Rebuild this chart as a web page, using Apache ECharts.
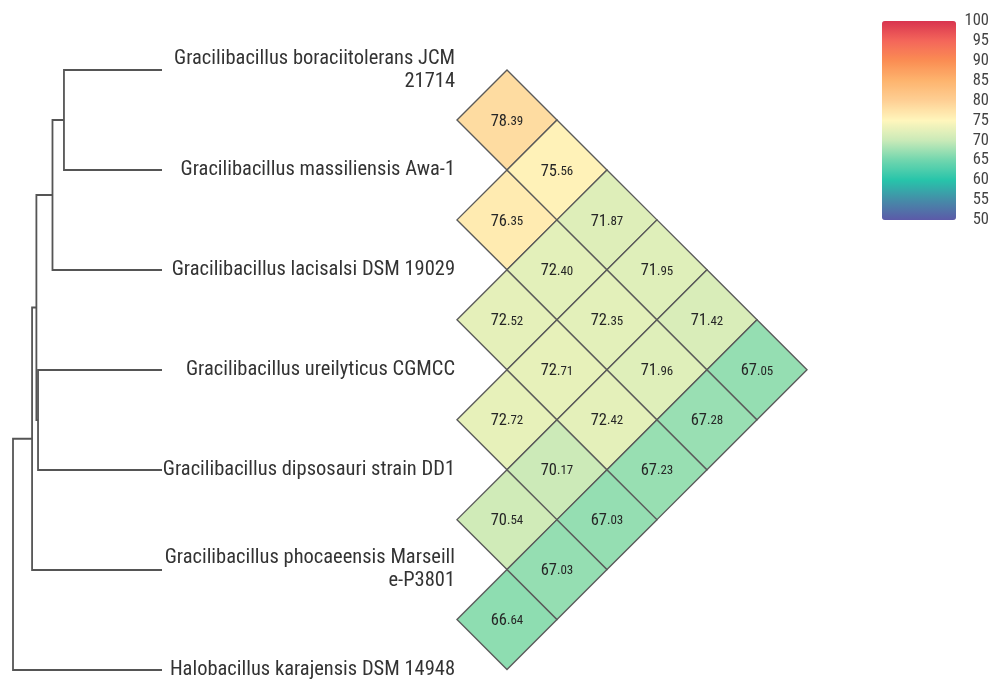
<!DOCTYPE html>
<html>
<head>
<meta charset="utf-8">
<script src="https://cdn.jsdelivr.net/npm/echarts@6/dist/echarts.min.js"></script>
<style>html,body{margin:0;padding:0;background:#fff}#main{width:994px;height:681px}</style>
</head>
<body>
<div id="main"></div>
<script>
// Leaf labels (top to bottom)
const species = [
  'Gracilibacillus boraciitolerans JCM\n21714',
  'Gracilibacillus massiliensis Awa-1',
  'Gracilibacillus lacisalsi DSM 19029',
  'Gracilibacillus ureilyticus CGMCC',
  'Gracilibacillus dipsosauri strain DD1',
  'Gracilibacillus phocaeensis Marseill\ne-P3801',
  'Halobacillus karajensis DSM 14948'
];
// Tree merges: [child A, child B, merge height]; new nodes numbered from 7
const merges = [
  [0, 1, 0.658],
  [7, 2, 0.735],
  [3, 4, 0.832],
  [8, 9, 0.843],
  [10, 5, 0.872],
  [11, 6, 1.0]
];
// Pairwise ANI values [i, j, value]
const aniPairs = [
  [0,1,78.39],[1,2,76.35],[2,3,72.52],[3,4,72.72],[4,5,70.54],[5,6,66.64],
  [0,2,75.56],[1,3,72.40],[2,4,72.71],[3,5,70.17],[4,6,67.03],
  [0,3,71.87],[1,4,72.35],[2,5,72.42],[3,6,67.03],
  [0,4,71.95],[1,5,71.96],[2,6,67.23],
  [0,5,71.42],[1,6,67.28],
  [0,6,67.05]
];
const scaleTicks = [50, 100, 5];
const scaleColors = ['#5c5aa8','#458ca8','#27c4aa','#70d6ae','#caeab8','#fff6bc','#fecf94','#fdb46e','#fb8d53','#f4665a','#d8344f'];

const FONT = '"Roboto Condensed", Roboto, sans-serif';

// build dendrogram segments
const nodeH = species.map(() => 0);
const nodeY = species.map((_, i) => i);
const treeData = merges.map(([a, b, h]) => {
  const item = [nodeH[a], nodeY[a], nodeH[b], nodeY[b], h];
  nodeH.push(h);
  nodeY.push((nodeY[a] + nodeY[b]) / 2);
  return item;
});
const heatData = aniPairs.map(([i, j, v]) => [j - i, (i + j) / 2, v]);

const chart = echarts.init(document.getElementById('main'));
chart.setOption({
  backgroundColor: '#fff',
  animation: false,
  grid: [
    {left: 457, top: 70, width: 350, height: 600},
    {left: 13, top: 70, width: 149, height: 600},
    {left: 882, top: 21, width: 74, height: 199}
  ],
  xAxis: [
    {gridIndex: 0, type: 'value', min: 0, max: 7, show: false},
    {gridIndex: 1, type: 'value', min: 0, max: 1, inverse: true, show: false},
    {gridIndex: 2, type: 'value', min: 0, max: 1, show: false}
  ],
  yAxis: [
    {gridIndex: 0, type: 'value', min: 0, max: 6, interval: 1, inverse: true,
     axisLine: {show: false}, axisTick: {show: false}, splitLine: {show: false},
     axisLabel: {margin: 2, fontFamily: FONT, fontSize: 20.5, lineHeight: 23, color: '#333',
       formatter: v => species[v] || ''}},
    {gridIndex: 1, type: 'value', min: 0, max: 6, inverse: true, show: false},
    {gridIndex: 2, type: 'value', min: scaleTicks[0], max: scaleTicks[1], interval: scaleTicks[2], position: 'right',
     axisLine: {show: false}, axisTick: {show: false}, splitLine: {show: false},
     axisLabel: {margin: 33, align: 'right', fontFamily: FONT, fontSize: 16.5, color: '#444'}}
  ],
  visualMap: {
    type: 'continuous', min: scaleTicks[0], max: scaleTicks[1], seriesIndex: 0, dimension: 2,
    left: 882, top: 21, itemWidth: 74, itemHeight: 199, padding: 0,
    calculable: false, text: null, hoverLink: false,
    inRange: {color: scaleColors}
  },
  series: [
    {
      type: 'custom', xAxisIndex: 0, yAxisIndex: 0, data: heatData,
      renderItem: (params, api) => {
        const d = api.value(0), r = api.value(1), v = api.value(2);
        const pts = [[d - 1, r], [d, r - 0.5], [d + 1, r], [d, r + 0.5]].map(p => api.coord(p));
        const c = api.coord([d, r]);
        const s = v.toFixed(2).split('.');
        return {type: 'group', children: [
          {type: 'polygon', shape: {points: pts}, style: {fill: api.visual('color'), stroke: '#5a5a5a', lineWidth: 1.4}},
          {type: 'text', x: c[0], y: c[1] + 1, style: {
            text: '{a|' + s[0] + '}{b|.' + s[1] + '}', align: 'center', verticalAlign: 'middle',
            rich: {
              a: {fontSize: 16.5, lineHeight: 18, fontFamily: FONT, fill: '#262626', verticalAlign: 'bottom'},
              b: {fontSize: 13, lineHeight: 13, fontFamily: FONT, fill: '#262626', verticalAlign: 'bottom', padding: [0, 0, 2, 0]}
            }}}
        ]};
      }
    },
    {
      type: 'custom', xAxisIndex: 1, yAxisIndex: 1, data: treeData,
      renderItem: (params, api) => {
        const ha = api.value(0), ya = api.value(1), hb = api.value(2), yb = api.value(3), h = api.value(4);
        const pts = [[ha, ya], [h, ya], [h, yb], [hb, yb]].map(p => api.coord(p));
        return {type: 'polyline', shape: {points: pts}, style: {fill: 'none', stroke: '#555', lineWidth: 1.8}};
      }
    }
  ]
});
</script>
</body>
</html>
